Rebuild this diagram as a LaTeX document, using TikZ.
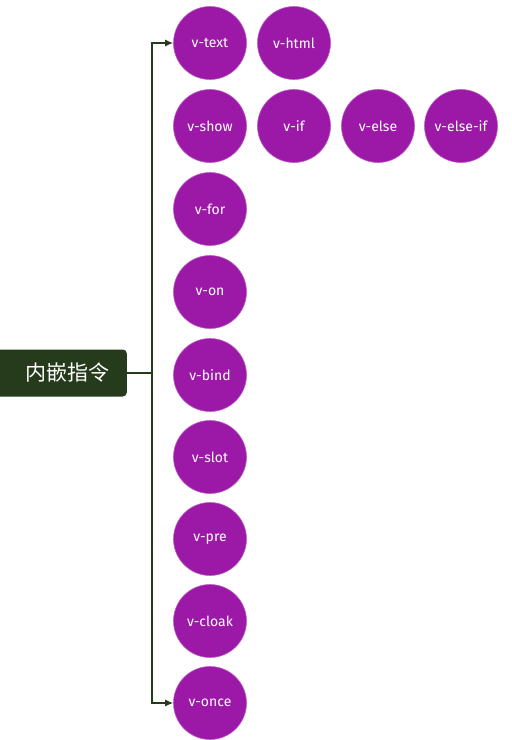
\documentclass[tikz,border=0pt]{standalone}
\usepackage{fontspec}
\setmainfont{Fira Sans}
\newfontfamily\cjk{Noto Sans CJK SC}
\usetikzlibrary{positioning,arrows.meta}
\definecolor{rootgreen}{HTML}{263A1C}
\definecolor{dirpurple}{HTML}{9C19A8}
\tikzset{
    x=1pt,
    y=-1pt,
    root/.style = {
        fill=rootgreen,
        shape=rectangle,
        rounded corners=4pt,
        minimum height=47pt,
        minimum width=140pt,
        text=white,
        font=\cjk\fontsize{21}{24}\selectfont
    },
    directive/.style = {
        fill=dirpurple,
        draw=dirpurple!70!white,
        line width=0.6pt,
        shape=circle,
        minimum size=73pt,
        inner sep=0pt,
        text=white,
        font=\fontsize{14}{16}\selectfont
    },
    link/.style = {
        draw=rootgreen,
        line width=1.3pt
    },
    >={Latex[length=8pt,width=7pt]},
}
\begin{document}
\begin{tikzpicture}
    \useasboundingbox (0,0) rectangle (512,740);

    \node[root, anchor=east] (root) at (127,373) {\hspace*{22pt}内嵌指令};

    \node[directive] (vtext) at (210,43) {v-text};
    \node[directive] (vhtml) at (294,43) {v-html};
    \node[directive] (vshow) at (210,126) {v-show};
    \node[directive] (vif) at (294,126) {v-if};
    \node[directive] (velse) at (378,126) {v-else};
    \node[directive] (velseif) at (461,126) {v-else-if};
    \node[directive] (vfor) at (210,209) {v-for};
    \node[directive] (von) at (210,292) {v-on};
    \node[directive] (vbind) at (210,375) {v-bind};
    \node[directive] (vslot) at (210,457) {v-slot};
    \node[directive] (vpre) at (210,539) {v-pre};
    \node[directive] (vcloak) at (210,621) {v-cloak};
    \node[directive] (vonce) at (210,703) {v-once};

    \coordinate (trunk) at (152,373);

    \path[link, ->] (root.east) -- (trunk) |- (vtext.west);
    \path[link, ->] (root.east) -- (trunk) |- (vonce.west);

\end{tikzpicture}
\end{document}
